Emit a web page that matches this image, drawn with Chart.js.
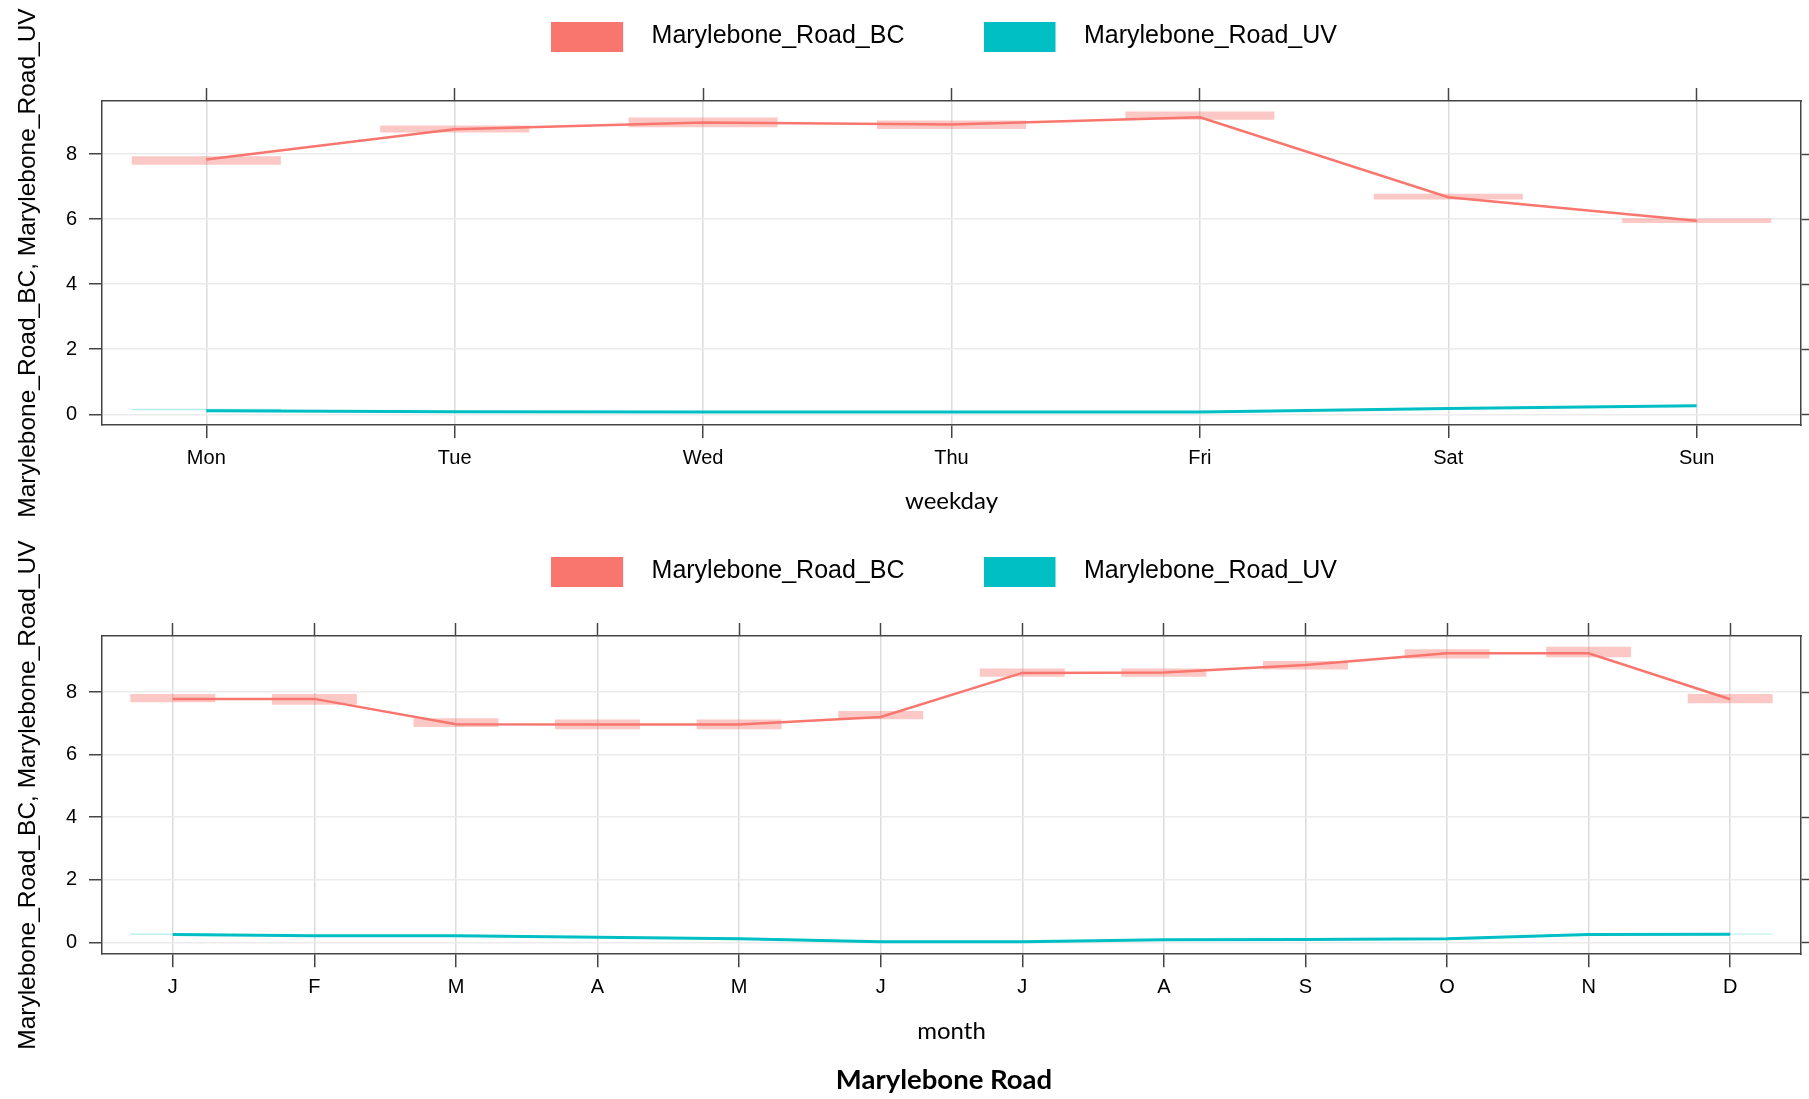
<!DOCTYPE html>
<html>
<head>
<meta charset="utf-8">
<title>Marylebone Road</title>
<script src="https://cdn.jsdelivr.net/npm/chart.js@4.4.1/dist/chart.umd.min.js"></script>
<style>
  html, body { margin: 0; padding: 0; background: #fff; }
  body { width: 1809px; height: 1099px; position: relative; overflow: hidden; }
  canvas { position: absolute; left: 0; }
  #chart-weekday { top: -55px; }
  #chart-month { top: 480px; }
</style>
</head>
<body>
<canvas id="chart-weekday" width="1835" height="580"></canvas>
<canvas id="chart-month" width="1835" height="619"></canvas>
<script>
const days = ['Mon', 'Tue', 'Wed', 'Thu', 'Fri', 'Sat', 'Sun']
const bcDay = [7.83, 8.76, 8.97, 8.91, 9.13, 6.67, 5.95]
const bcDayLow = [7.67, 8.66, 8.82, 8.77, 9.05, 6.60, 5.88]
const bcDayHigh = [7.93, 8.88, 9.12, 9.03, 9.31, 6.78, 6.02]
const uvDay = [0.11, 0.08, 0.07, 0.07, 0.07, 0.18, 0.26]
const uvDayLow = [0.12, 0.07, 0.06, 0.06, 0.06, 0.17, 0.26]
const uvDayHigh = [0.17, 0.09, 0.08, 0.08, 0.08, 0.19, 0.265]

const months = ['J', 'F', 'M', 'A', 'M', 'J', 'J', 'A', 'S', 'O', 'N', 'D']
const bcMonth = [7.78, 7.78, 6.97, 6.96, 6.96, 7.20, 8.61, 8.62, 8.86, 9.24, 9.24, 7.77]
const bcMonthLow = [7.67, 7.59, 6.88, 6.81, 6.81, 7.13, 8.49, 8.49, 8.72, 9.07, 9.11, 7.64]
const bcMonthHigh = [7.94, 7.94, 7.16, 7.12, 7.12, 7.39, 8.75, 8.75, 8.99, 9.37, 9.45, 7.94]
const uvMonth = [0.25, 0.21, 0.21, 0.16, 0.11, 0.02, 0.02, 0.08, 0.09, 0.11, 0.25, 0.26]
const uvMonthLow = [0.24, 0.20, 0.20, 0.15, 0.10, 0.01, 0.01, 0.07, 0.08, 0.10, 0.24, 0.25]
const uvMonthHigh = [0.28, 0.22, 0.22, 0.17, 0.12, 0.03, 0.03, 0.09, 0.10, 0.12, 0.26, 0.28]

const yTicks = [0, 2, 4, 6, 8]

const RED = '#F8766D'
const CYAN = '#00BFC4'
const AXIS = '#444'

Chart.defaults.font.family = "'Liberation Sans', Arial, sans-serif"
Chart.defaults.color = '#000'

// legend key: coloured block plus a transparent gap before the label text
function legendKey(color) {
  const c = document.createElement('canvas')
  c.width = 88
  c.height = 30
  const g = c.getContext('2d')
  g.fillStyle = color
  g.fillRect(0, 0, 72, 30)
  return c
}

// long rotated y title, wider than the plot area so the scale title would squeeze it
const yTitlePlugin = {
  id: 'yTitle',
  afterDraw(chart, args, opts) {
    const { ctx, chartArea } = chart
    ctx.save()
    ctx.translate(opts.x, (chartArea.top + chartArea.bottom) / 2)
    ctx.rotate(-Math.PI / 2)
    ctx.font = opts.font
    ctx.fillStyle = '#000'
    ctx.textAlign = 'center'
    ctx.textBaseline = 'middle'
    ctx.fillText(opts.text, 0, 0)
    ctx.restore()
  }
}

const points = values => values.map((v, i) => ({ x: i, y: v }))
const ranges = (low, high) => low.map((l, i) => ({ x: i, y: [l, high[i]] }))

function drawPanel(id, cfg) {
  const ctx = document.getElementById(id).getContext('2d')
  const xTickList = scale => { scale.ticks = cfg.labels.map((_, i) => ({ value: i })) }
  const yTickList = scale => { scale.ticks = yTicks.map(v => ({ value: v })) }

  return new Chart(ctx, {
    type: 'line',
    data: {
      datasets: [
        {
          label: 'Marylebone_Road_BC',
          data: points(cfg.bc),
          borderColor: RED,
          backgroundColor: RED,
          borderWidth: 2.5,
          pointRadius: 0,
          pointStyle: legendKey(RED),
          order: 1
        },
        {
          label: 'Marylebone_Road_UV',
          data: points(cfg.uv),
          borderColor: CYAN,
          backgroundColor: CYAN,
          borderWidth: 3,
          pointRadius: 0,
          pointStyle: legendKey(CYAN),
          order: 1
        },
        {
          type: 'bar',
          label: 'BC ci',
          data: ranges(cfg.bcLow, cfg.bcHigh),
          backgroundColor: 'rgba(248, 118, 109, 0.4)',
          grouped: false,
          barPercentage: 0.6,
          categoryPercentage: 1,
          order: 2
        },
        {
          type: 'bar',
          label: 'UV ci',
          data: ranges(cfg.uvLow, cfg.uvHigh),
          backgroundColor: 'rgba(0, 191, 196, 0.3)',
          grouped: false,
          barPercentage: 0.6,
          categoryPercentage: 1,
          order: 2
        }
      ]
    },
    options: {
      responsive: false,
      animation: false,
      events: [],
      layout: { padding: { left: 53, right: 0, top: 0, bottom: 0 } },
      plugins: {
        legend: {
          position: 'top',
          labels: {
            usePointStyle: true,
            pointStyleWidth: 88,
            boxHeight: 30,
            padding: 79,
            font: { size: 25 },
            color: '#000',
            filter: (item, data) => data.datasets[item.datasetIndex].type !== 'bar'
          }
        },
        tooltip: { enabled: false },
        title: cfg.title ? {
          display: true,
          position: 'bottom',
          text: cfg.title,
          font: { family: 'Lato', size: 27.5, weight: 'bold' },
          color: '#000',
          padding: { top: 9, bottom: 2 }
        } : { display: false },
        yTitle: {
          text: 'Marylebone_Road_BC, Marylebone_Road_UV',
          x: 28,
          font: "24.5px 'Liberation Sans', Arial, sans-serif"
        }
      },
      scales: {
        x: {
          type: 'linear',
          min: cfg.xMin,
          max: cfg.xMax,
          offset: false,
          afterBuildTicks: xTickList,
          afterFit: scale => { scale.height = cfg.xAxisHeight },
          ticks: {
            callback: v => cfg.labels[v],
            font: { size: 20 },
            color: '#000',
            padding: 8,
            maxRotation: 0,
            autoSkip: false
          },
          grid: { offset: false, color: '#dcdcdc', lineWidth: 1.5, tickColor: AXIS, tickLength: 13, tickWidth: 1.5 },
          border: { color: AXIS, width: 1.5 },
          title: {
            display: true,
            text: cfg.xTitle,
            font: { family: 'Lato', size: 24 },
            color: '#000',
            padding: { top: 0, bottom: 9 }
          }
        },
        x2: {
          type: 'linear',
          position: 'top',
          min: cfg.xMin,
          max: cfg.xMax,
          offset: false,
          afterBuildTicks: xTickList,
          afterFit: scale => { scale.height = 42 },
          ticks: { display: false },
          grid: { offset: false, drawOnChartArea: false, tickColor: AXIS, tickLength: 13, tickWidth: 1.5 },
          border: { color: AXIS, width: 1.5 }
        },
        y: {
          min: cfg.yMin,
          max: cfg.yMax,
          afterBuildTicks: yTickList,
          afterFit: scale => { scale.width = 49 },
          ticks: { font: { size: 20 }, color: '#000', padding: 12 },
          grid: { color: '#ebebeb', lineWidth: 1.5, tickColor: AXIS, tickLength: 13, tickWidth: 1.5 },
          border: { color: AXIS, width: 1.5 }
        },
        y2: {
          position: 'right',
          min: cfg.yMin,
          max: cfg.yMax,
          afterBuildTicks: yTickList,
          afterFit: scale => { scale.width = 34 },
          ticks: { display: false },
          grid: { drawOnChartArea: false, tickColor: AXIS, tickLength: 8, tickWidth: 1.5 },
          border: { color: AXIS, width: 1.5 }
        }
      }
    },
    plugins: [yTitlePlugin]
  })
}

drawPanel('chart-weekday', {
  labels: days,
  bc: bcDay, bcLow: bcDayLow, bcHigh: bcDayHigh,
  uv: uvDay, uvLow: uvDayLow, uvHigh: uvDayHigh,
  xMin: -0.42, xMax: 6.42,
  yMin: -0.33, yMax: 9.63,
  xTitle: 'weekday',
  xAxisHeight: 100
})

drawPanel('chart-month', {
  labels: months,
  bc: bcMonth, bcLow: bcMonthLow, bcHigh: bcMonthHigh,
  uv: uvMonth, uvLow: uvMonthLow, uvHigh: uvMonthHigh,
  xMin: -0.5, xMax: 11.5,
  yMin: -0.38, yMax: 9.79,
  xTitle: 'month',
  xAxisHeight: 100.8,
  title: 'Marylebone Road'
})
</script>
</body>
</html>
